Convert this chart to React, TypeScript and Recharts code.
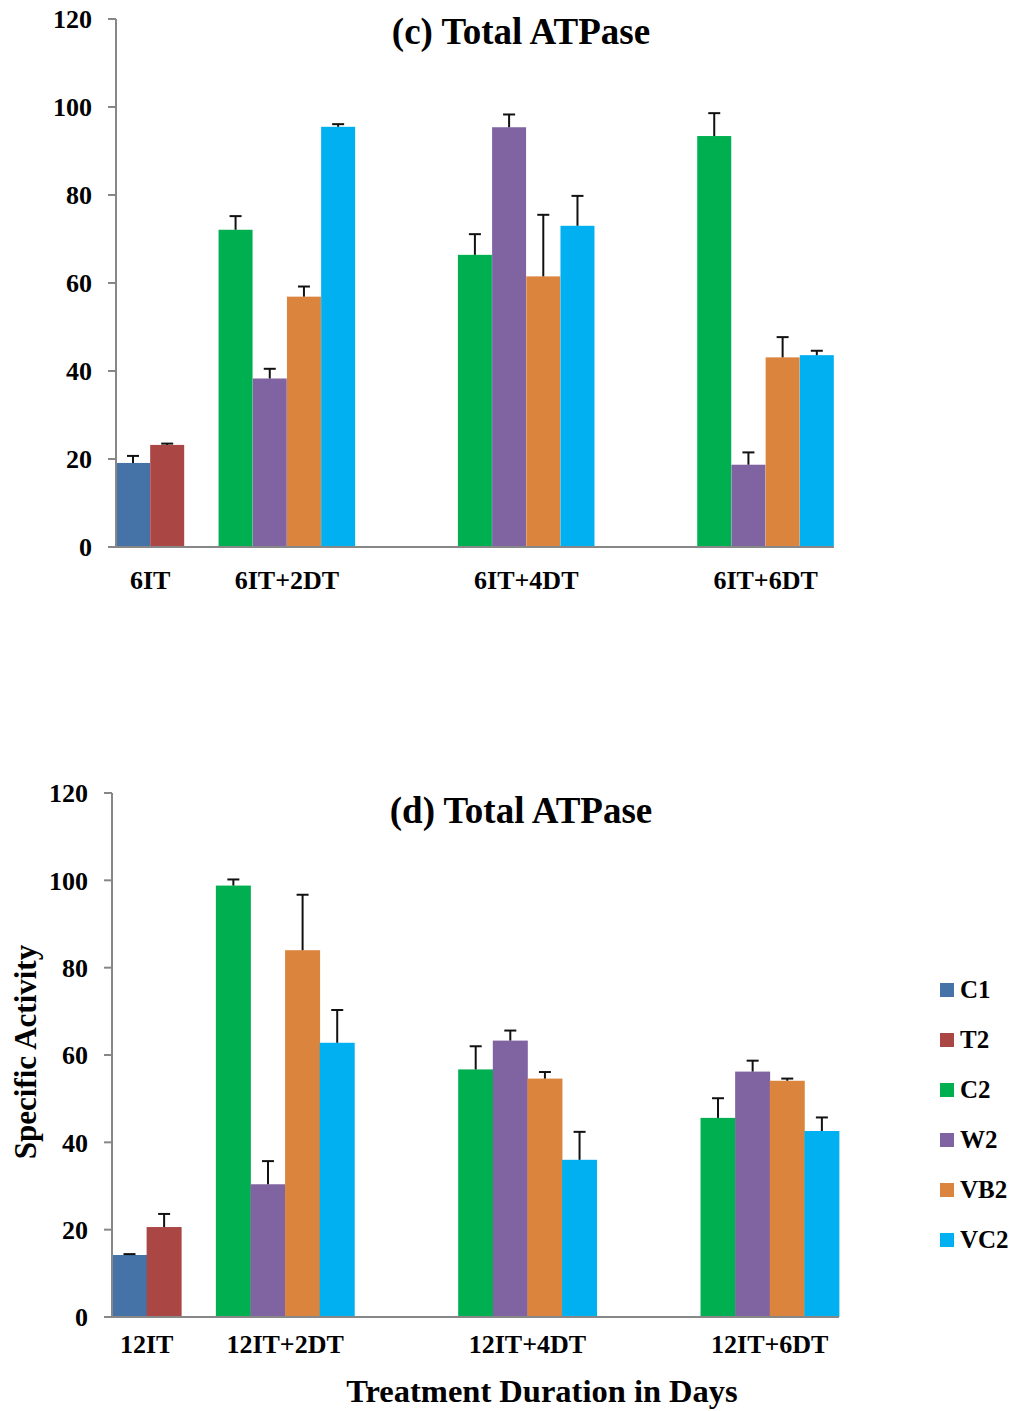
import React from 'react';
import { BarChart, Bar, XAxis, YAxis, Legend } from 'recharts';

// ---- data ----
const SERIES = ['C1', 'T2', 'C2', 'W2', 'VB2', 'VC2'];
const SERIES_COLORS = ['#4572A7', '#AA4643', '#00B050', '#8064A2', '#DB843D', '#00B0F0'];

const Y_TICKS = [0, 20, 40, 60, 80, 100, 120];

// Panel (c): 6 days of treatment followed by recovery
const CATEGORIES_C = ['6IT', '6IT+2DT', '6IT+4DT', '6IT+6DT'];
const C_C1 = [19.1, null, null, null];
const C_T2 = [23.2, null, null, null];
const C_C2 = [null, 72.1, 66.4, 93.4];
const C_W2 = [null, 38.3, 95.4, 18.7];
const C_VB2 = [null, 56.9, 61.5, 43.1];
const C_VC2 = [null, 95.5, 73.0, 43.6];
const C_C1_ERR = [1.6, null, null, null];
const C_T2_ERR = [0.3, null, null, null];
const C_C2_ERR = [null, 3.1, 4.7, 5.2];
const C_W2_ERR = [null, 2.2, 2.9, 2.8];
const C_VB2_ERR = [null, 2.3, 14.0, 4.6];
const C_VC2_ERR = [null, 0.6, 6.8, 1.0];

// Panel (d): 12 days of treatment followed by recovery
const CATEGORIES_D = ['12IT', '12IT+2DT', '12IT+4DT', '12IT+6DT'];
const D_C1 = [14.2, null, null, null];
const D_T2 = [20.6, null, null, null];
const D_C2 = [null, 98.8, 56.7, 45.6];
const D_W2 = [null, 30.4, 63.3, 56.2];
const D_VB2 = [null, 84.0, 54.6, 54.1];
const D_VC2 = [null, 62.8, 36.0, 42.6];
const D_C1_ERR = [0.2, null, null, null];
const D_T2_ERR = [3.0, null, null, null];
const D_C2_ERR = [null, 1.4, 5.3, 4.5];
const D_W2_ERR = [null, 5.3, 2.3, 2.5];
const D_VB2_ERR = [null, 12.7, 1.5, 0.5];
const D_VC2_ERR = [null, 7.5, 6.4, 3.1];

// empty bar slots placed before each category group
const GROUP_GAPS = [0, 1, 3, 3];

const FONT = "'Liberation Serif', 'Times New Roman', serif";
const AXIS_GRAY = '#878787';

type Num = number | null;

// One row per bar slot; each row carries at most one series value.
// `pos` is the slot centre on a continuous 0..N scale used for the group labels.
function buildSlots(categories: string[], values: Num[][], errors: Num[][]) {
  const rows: Record<string, any>[] = [];
  const centers: number[] = [];
  const push = (row: Record<string, any>) => rows.push({ ...row, pos: rows.length + 0.5 });
  categories.forEach((cat, ci) => {
    for (let g = 0; g < GROUP_GAPS[ci]; g++) push({ slot: `gap-${ci}-${g}` });
    const start = rows.length;
    SERIES.forEach((s, si) => {
      const v = values[si][ci];
      if (v != null) {
        push({ slot: `${cat}-${s}`, [s]: v, [`${s}Err`]: errors[si][ci] ?? 0 });
      }
    });
    centers.push((start + rows.length) / 2);
  });
  return { rows, centers };
}

function BarWithError(props: any) {
  const { x, y, width, height, fill, payload, seriesKey } = props;
  const v = payload ? payload[seriesKey] : null;
  if (v == null || !(height > 0)) return null;
  const err = payload[`${seriesKey}Err`] ?? 0;
  const pxPerUnit = height / v;
  const top = y - err * pxPerUnit;
  const cx = x + width / 2;
  return (
    <g>
      <rect x={x} y={y} width={width} height={height} fill={fill} />
      {err > 0 && (
        <g stroke="#111" strokeWidth={2}>
          <line x1={cx} x2={cx} y1={y} y2={top} />
          <line x1={cx - 6} x2={cx + 6} y1={top} y2={top} />
        </g>
      )}
    </g>
  );
}

function LegendList(props: any) {
  const payload = [...(props.payload || [])].sort(
    (a: any, b: any) => SERIES.indexOf(a.value) - SERIES.indexOf(b.value)
  );
  return (
    <div style={{ fontFamily: FONT, fontWeight: 'bold', fontSize: 25, color: '#000' }}>
      {payload.map((p: any) => (
        <div key={p.value} style={{ height: 50, display: 'flex', alignItems: 'center' }}>
          <span style={{ display: 'inline-block', width: 14, height: 14, background: p.color, marginRight: 6 }} />
          <span>{p.value}</span>
        </div>
      ))}
    </div>
  );
}

interface PanelProps {
  top: number;
  height: number;
  margin: { top: number; right: number; bottom: number; left: number };
  labelGap: number;
  categories: string[];
  values: Num[][];
  errors: Num[][];
  showLegend?: boolean;
  legendTop?: number;
}

function Panel({ top, height, margin, labelGap, categories, values, errors, showLegend, legendTop }: PanelProps) {
  const { rows, centers } = buildSlots(categories, values, errors);
  const tickStyle = { fill: '#000', fontSize: 26, fontWeight: 'bold', fontFamily: FONT };
  return (
    <div style={{ position: 'absolute', left: 0, top }}>
      <BarChart width={1016} height={height} data={rows} margin={margin} barCategoryGap={0} barGap={0}>
        <XAxis dataKey="slot" type="category" hide height={0} />
        <XAxis
          xAxisId="grp"
          dataKey="pos"
          type="number"
          domain={[0, rows.length]}
          allowDataOverflow
          ticks={centers}
          interval={0}
          tickFormatter={(v: number) => categories[centers.indexOf(v)] ?? ''}
          height={60}
          tickLine={false}
          tickSize={0}
          tickMargin={labelGap}
          axisLine={{ stroke: AXIS_GRAY, strokeWidth: 2 }}
          tick={tickStyle}
        />
        <YAxis
          domain={[0, 120]}
          ticks={Y_TICKS}
          interval={0}
          width={60}
          tickSize={8}
          tickMargin={16}
          axisLine={{ stroke: AXIS_GRAY, strokeWidth: 2 }}
          tickLine={{ stroke: AXIS_GRAY, strokeWidth: 2 }}
          tick={tickStyle}
        />
        {SERIES.map((s, i) => (
          <Bar
            key={s}
            dataKey={s}
            stackId="slot"
            fill={SERIES_COLORS[i]}
            legendType="square"
            isAnimationActive={false}
            shape={(p: any) => <BarWithError {...p} seriesKey={s} />}
          />
        ))}
        {showLegend && (
          <Legend
            layout="horizontal"
            verticalAlign="middle"
            align="center"
            wrapperStyle={{ left: 940, top: legendTop, width: 76 }}
            content={(p: any) => <LegendList {...p} />}
          />
        )}
      </BarChart>
    </div>
  );
}

export default function App() {
  return (
    <div style={{ position: 'absolute', left: 0, top: 0, width: 1016, height: 1411, background: '#fff', overflow: 'hidden' }}>
      <Panel
        top={0}
        height={620}
        margin={{ top: 19, right: 182, bottom: 13, left: 56 }}
        labelGap={24}
        categories={CATEGORIES_C}
        values={[C_C1, C_T2, C_C2, C_W2, C_VB2, C_VC2]}
        errors={[C_C1_ERR, C_T2_ERR, C_C2_ERR, C_W2_ERR, C_VB2_ERR, C_VC2_ERR]}
      />
      <Panel
        top={760}
        height={640}
        margin={{ top: 33, right: 177, bottom: 23, left: 52 }}
        labelGap={18}
        categories={CATEGORIES_D}
        values={[D_C1, D_T2, D_C2, D_W2, D_VB2, D_VC2]}
        errors={[D_C1_ERR, D_T2_ERR, D_C2_ERR, D_W2_ERR, D_VB2_ERR, D_VC2_ERR]}
        showLegend
        legendTop={205}
      />
      <svg
        width={1016}
        height={1411}
        style={{ position: 'absolute', left: 0, top: 0, pointerEvents: 'none' }}
        fontFamily={FONT}
        fontWeight="bold"
      >
        <text x={521} y={44} textAnchor="middle" fontSize={37} fill="#000">(c) Total ATPase</text>
        <text x={521} y={823} textAnchor="middle" fontSize={37} fill="#000">(d) Total ATPase</text>
        <text x={542} y={1402} textAnchor="middle" fontSize={32.5} fill="#000">Treatment Duration in Days</text>
        <text transform="translate(35.5,1052) rotate(-90)" textAnchor="middle" fontSize={31} fill="#000">
          Specific Activity
        </text>
      </svg>
    </div>
  );
}
